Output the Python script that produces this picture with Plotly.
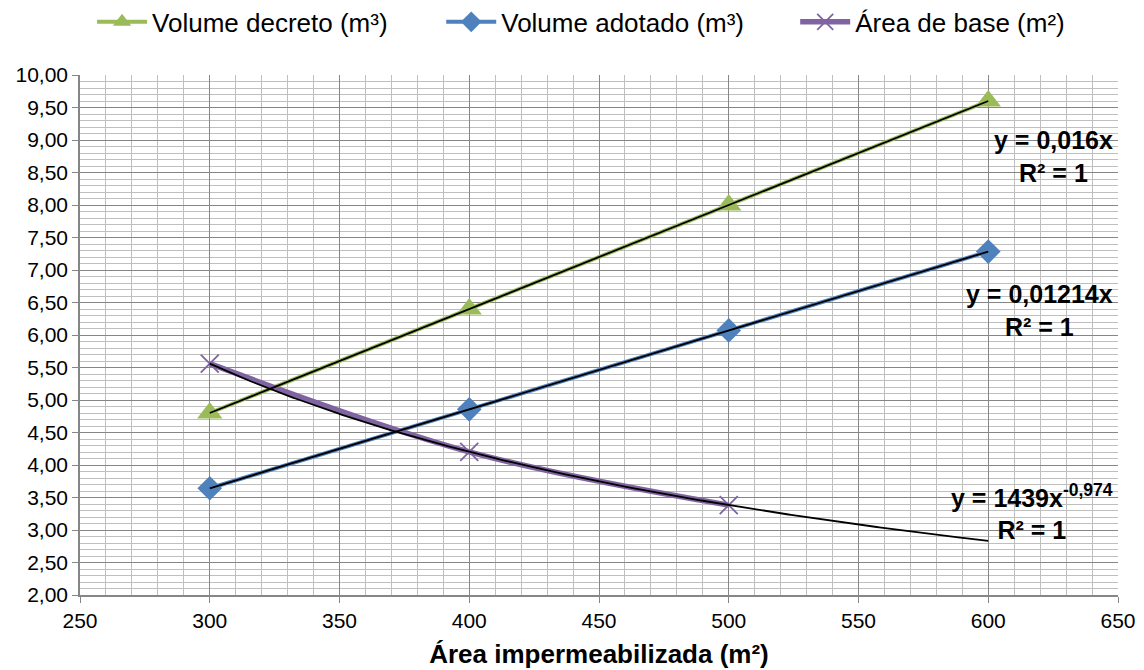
import numpy as np
import plotly.graph_objects as go

x_vals = [300, 400, 500, 600]
vol_decreto = [4.80, 6.40, 8.00, 9.60]
vol_adotado = [3.642, 4.856, 6.070, 7.284]
x_base = [300, 400, 500]
area_base = [5.559, 4.203, 3.383]

eq_texts = ["<b>y = 0,016x<br>R² = 1</b>",
            "<b>y = 0,01214x<br>R² = 1</b>",
            "<b>y = 1439x<sup>-0,974</sup><br>R² = 1</b>"]
eq_y = [8.74, 6.37, 3.28]

GREEN = "#9BBB59"
BLUE = "#4F81BD"
PURPLE = "#8064A2"
FONT = "Liberation Sans, Arial, sans-serif"

fig = go.Figure()
fig.add_trace(go.Scatter(x=x_vals, y=vol_decreto, mode="lines+markers", name="Volume decreto (m³)",
                         line=dict(color=GREEN, width=4), legend="legend",
                         marker=dict(symbol="triangle-up", size=22, color=GREEN)))
fig.add_trace(go.Scatter(x=x_vals, y=vol_adotado, mode="lines+markers", name="Volume adotado (m³)",
                         line=dict(color=BLUE, width=4), legend="legend2",
                         marker=dict(symbol="diamond", size=19, color=BLUE)))
fig.add_trace(go.Scatter(x=x_base, y=area_base, mode="lines+markers", name="Área de base (m²)",
                         line=dict(color=PURPLE, width=5.5, shape="spline"), legend="legend3",
                         marker=dict(symbol="x-thin-open", size=18, color=PURPLE,
                                     line=dict(width=1.8, color=PURPLE))))

# trendlines (fitted from the data)
xs = np.linspace(300, 600, 301)
xa = np.array(x_vals, dtype=float)
k1 = np.sum(xa * np.array(vol_decreto)) / np.sum(xa ** 2)
k2 = np.sum(xa * np.array(vol_adotado)) / np.sum(xa ** 2)
b, a = np.polyfit(np.log(x_base), np.log(area_base), 1)
for ys in [k1 * xs, k2 * xs, np.exp(a) * xs ** b]:
    fig.add_trace(go.Scatter(x=xs, y=ys, mode="lines", showlegend=False, hoverinfo="skip",
                             line=dict(color="black", width=1.8)))

for txt, yp in zip(eq_texts, eq_y):
    fig.add_annotation(x=649, y=yp, xref="x", yref="y", text=txt, showarrow=False,
                       xanchor="right", yanchor="middle", align="center",
                       font=dict(family=FONT, size=25, color="black"))

def leg(xpos):
    return dict(orientation="h", x=xpos, xanchor="left", y=1.102, yanchor="middle",
                font=dict(family=FONT, size=26), itemwidth=50, bgcolor="rgba(0,0,0,0)")

fig.update_layout(
    width=1144, height=670,
    margin=dict(l=80, r=26, t=75, b=75, autoexpand=False),
    paper_bgcolor="white", plot_bgcolor="white",
    separators=",.",
    font=dict(family=FONT, size=21, color="black"),
    showlegend=True,
    legend=leg(0.0116), legend2=leg(0.348), legend3=leg(0.689),
    xaxis=dict(range=[250, 650], dtick=50, tick0=250, showgrid=True, gridcolor="#868686", gridwidth=1,
               minor=dict(dtick=10, showgrid=True, gridcolor="#BFBFBF", gridwidth=1),
               showline=True, linecolor="#868686", linewidth=1.5, ticks="outside", ticklen=6,
               tickcolor="#868686", zeroline=False,
               tickfont=dict(size=21),
               title=dict(text="<b>Área impermeabilizada (m²)</b>", font=dict(size=26), standoff=14)),
    yaxis=dict(range=[2, 10], dtick=0.5, tick0=2, showgrid=True, gridcolor="#868686", gridwidth=1,
               minor=dict(dtick=0.1, showgrid=True, gridcolor="#BFBFBF", gridwidth=1),
               showline=True, linecolor="#868686", linewidth=1.5, ticks="outside", ticklen=6,
               tickcolor="#868686", zeroline=False, tickformat=".2f",
               tickfont=dict(size=21)),
)
fig.write_html("out.html")
